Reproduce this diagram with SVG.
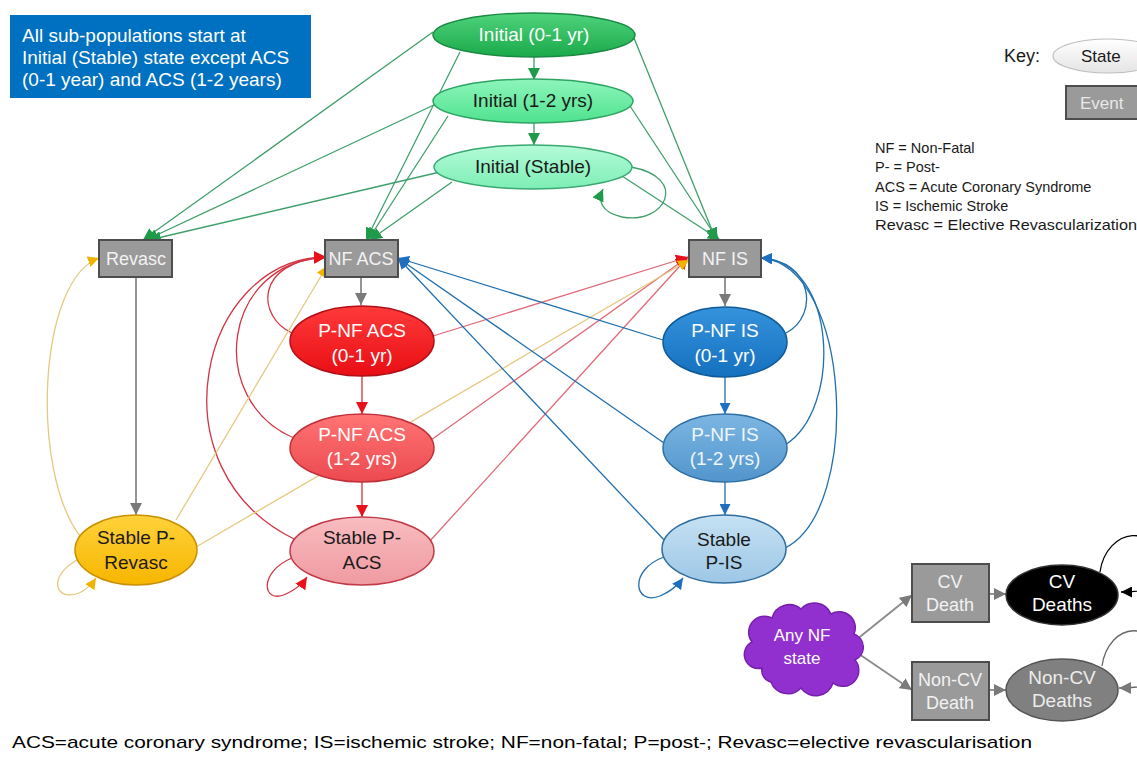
<svg xmlns="http://www.w3.org/2000/svg" width="1137" height="767" viewBox="0 0 1137 767">
<defs>
<style>
text{font-family:"Liberation Sans",Arial,sans-serif;}
.lbl{font-size:19px;text-anchor:middle;}
.w{fill:#ffffff;}
.d{fill:#1a1a1a;}
.evt{fill:#9a9a9a;stroke:#4d4d4d;stroke-width:2;}
.evtx{font-size:18px;text-anchor:middle;fill:#f2f2f2;}
.c{fill:none;stroke-width:1.3;}
.g{stroke:#3f9f6b;marker-end:url(#mg);}
.r{stroke:#d23442;marker-end:url(#mr);}
.rl{stroke:#e06a78;marker-end:url(#mr);}
.b{stroke:#1f6fae;marker-end:url(#mb);}
.y{stroke:#e6c87e;marker-end:url(#my);}
.gr{stroke:#8a8a8a;stroke-width:1.8;marker-end:url(#mgr);}
.note{font-size:14.5px;fill:#1a1a1a;}
.box{font-size:19px;fill:#ffffff;}
</style>
<marker id="mg" markerUnits="userSpaceOnUse" markerWidth="12" markerHeight="12" refX="10" refY="5" orient="auto" viewBox="0 0 10 10"><path d="M0,0 L10,5 L0,10 z" fill="#1f9a48"/></marker>
<marker id="mr" markerUnits="userSpaceOnUse" markerWidth="12" markerHeight="12" refX="10" refY="5" orient="auto" viewBox="0 0 10 10"><path d="M0,0 L10,5 L0,10 z" fill="#e8101a"/></marker>
<marker id="mb" markerUnits="userSpaceOnUse" markerWidth="11" markerHeight="11" refX="10" refY="5" orient="auto" viewBox="0 0 10 10"><path d="M0,0 L10,5 L0,10 z" fill="#1f6fc0"/></marker>
<marker id="my" markerUnits="userSpaceOnUse" markerWidth="11" markerHeight="11" refX="10" refY="5" orient="auto" viewBox="0 0 10 10"><path d="M0,0 L10,5 L0,10 z" fill="#f0b400"/></marker>
<marker id="mgr" markerUnits="userSpaceOnUse" markerWidth="12" markerHeight="12" refX="10" refY="5" orient="auto" viewBox="0 0 10 10"><path d="M0,0 L10,5 L0,10 z" fill="#7a7a7a"/></marker>
<marker id="mk" markerUnits="userSpaceOnUse" markerWidth="11" markerHeight="11" refX="10" refY="5" orient="auto" viewBox="0 0 10 10"><path d="M0,0 L10,5 L0,10 z" fill="#000"/></marker>
<linearGradient id="gIn0" x1="0" y1="0" x2="0" y2="1"><stop offset="0" stop-color="#4fd37c"/><stop offset="1" stop-color="#1aa94a"/></linearGradient>
<linearGradient id="gIn1" x1="0" y1="0" x2="0" y2="1"><stop offset="0" stop-color="#8ef5bb"/><stop offset="1" stop-color="#4fe28f"/></linearGradient>
<linearGradient id="gIn2" x1="0" y1="0" x2="0" y2="1"><stop offset="0" stop-color="#b4fbd8"/><stop offset="1" stop-color="#7deeb5"/></linearGradient>
<linearGradient id="gR0" x1="0" y1="0" x2="0" y2="1"><stop offset="0" stop-color="#ff3a3a"/><stop offset="1" stop-color="#e80e14"/></linearGradient>
<linearGradient id="gR1" x1="0" y1="0" x2="0" y2="1"><stop offset="0" stop-color="#ff7474"/><stop offset="1" stop-color="#ec4a4f"/></linearGradient>
<linearGradient id="gR2" x1="0" y1="0" x2="0" y2="1"><stop offset="0" stop-color="#f8bcc0"/><stop offset="1" stop-color="#ef9aa1"/></linearGradient>
<linearGradient id="gB0" x1="0" y1="0" x2="0" y2="1"><stop offset="0" stop-color="#3592dc"/><stop offset="1" stop-color="#1571bf"/></linearGradient>
<linearGradient id="gB1" x1="0" y1="0" x2="0" y2="1"><stop offset="0" stop-color="#7cb6e3"/><stop offset="1" stop-color="#5295cc"/></linearGradient>
<linearGradient id="gB2" x1="0" y1="0" x2="0" y2="1"><stop offset="0" stop-color="#c6e1f3"/><stop offset="1" stop-color="#9dc7e6"/></linearGradient>
<linearGradient id="gY" x1="0" y1="0" x2="0" y2="1"><stop offset="0" stop-color="#ffd23a"/><stop offset="1" stop-color="#f7b600"/></linearGradient>
<linearGradient id="gK" x1="0" y1="0" x2="0" y2="1"><stop offset="0" stop-color="#ffffff"/><stop offset="1" stop-color="#e4e4e4"/></linearGradient>
</defs>

<rect x="0" y="0" width="1137" height="767" fill="#ffffff"/>

<g id="connectors">
<!-- green -->
<path class="c g" d="M534,57 L534,80"/>
<path class="c g" d="M534,123 L534,145"/>
<path class="c g" d="M433,32 L143,240"/>
<path class="c g" d="M436,104 L146,240"/>
<path class="c g" d="M440,172 L149,240"/>
<path class="c g" d="M460,52 L366,240"/>
<path class="c g" d="M448,116 L368,240"/>
<path class="c g" d="M452,182 L370,240"/>
<path class="c g" d="M634,38 L716,240"/>
<path class="c g" d="M630,106 L718,240"/>
<path class="c g" d="M622,176 L720,240"/>
<path class="c g" d="M631,167 C690,178 665,225 622,217 C600,212 598,200 603,189"/>
<!-- grey verticals -->
<path class="c gr" d="M361,277 L361,305"/>
<path class="c gr" d="M136,277 L136,515"/>
<path class="c gr" d="M725,277 L725,306"/>
<!-- red verticals -->
<path class="c r" d="M362,375 L362,414"/>
<path class="c r" d="M362,482 L362,517"/>
<!-- red curves to NF ACS -->
<path class="c r" d="M292,333 C258,318 252,262 326,257"/>
<path class="c r" d="M294,438 C205,400 222,262 326,257"/>
<path class="c r" d="M296,540 C150,470 200,258 326,257"/>
<path class="c r" d="M292,558 C258,572 262,605 286,594 C297,589 303,583 307,577"/>
<!-- red lines to NF IS -->
<path class="c rl" d="M433,336 L688,257"/>
<path class="c rl" d="M431,440 L688,257"/>
<path class="c rl" d="M429,542 L688,257"/>
<!-- yellow -->
<path class="c y" d="M80,536 C30,470 38,280 99,258"/>
<path class="c y" d="M77,560 C48,576 54,602 79,593 C88,589 92,584 96,578"/>
<path class="c y" d="M176,520 L327,266"/>
<path class="c y" d="M196,547 L689,260"/>
<!-- blue -->
<path class="c b" d="M725,376 L725,414"/>
<path class="c b" d="M725,482 L725,515"/>
<path class="c b" d="M663,340 L398,258"/>
<path class="c b" d="M664,443 L398,258"/>
<path class="c b" d="M667,543 L398,258"/>
<path class="c b" d="M786,333 C820,315 812,260 761,258"/>
<path class="c b" d="M785,445 C842,410 838,262 761,258"/>
<path class="c b" d="M785,548 C862,510 852,265 761,258"/>
<path class="c b" d="M664,557 C628,570 634,606 660,596 C672,591 678,585 683,578"/>
<!-- deaths -->
<path class="c gr" d="M856,640 L912,595"/>
<path class="c gr" d="M856,652 L912,690"/>
<path class="c gr" d="M989,594 L1006,594"/>
<path class="c gr" d="M989,690 L1006,690"/>
<path fill="none" stroke="#000" stroke-width="1.3" marker-end="url(#mk)" d="M1100,572 C1106,528 1160,518 1160,575 C1160,588 1144,592 1121,592"/>
<path fill="none" stroke="#666" stroke-width="1.3" marker-end="url(#mgr)" d="M1102,666 C1108,622 1160,614 1160,672 C1160,684 1142,688 1119,688"/>
</g>

<g id="note">
<rect x="10" y="15" width="301" height="83" fill="#0070c0"/>
<text class="box" x="22" y="42">All sub-populations start at</text>
<text class="box" x="22" y="64">Initial (Stable) state except ACS</text>
<text class="box" x="22" y="86">(0-1 year) and ACS (1-2 years)</text>
</g>

<g id="initial-0-1">
<ellipse cx="534" cy="35" rx="101" ry="22" fill="url(#gIn0)" stroke="#1b8a44" stroke-width="1.5"/>
<text class="lbl w" x="534" y="41">Initial (0-1 yr)</text>
</g>
<g id="initial-1-2">
<ellipse cx="533" cy="101" rx="100" ry="22" fill="url(#gIn1)" stroke="#2ea463" stroke-width="1.5"/>
<text class="lbl d" x="533" y="107">Initial (1-2 yrs)</text>
</g>
<g id="initial-stable">
<ellipse cx="533" cy="167" rx="99" ry="22" fill="url(#gIn2)" stroke="#3aa870" stroke-width="1.5"/>
<text class="lbl d" x="533" y="173">Initial (Stable)</text>
</g>

<g id="revasc">
<rect class="evt" x="99" y="240" width="73" height="37"/>
<text class="evtx" x="136" y="265">Revasc</text>
</g>
<g id="nf-acs">
<rect class="evt" x="325" y="240" width="73" height="37"/>
<text class="evtx" x="361" y="265">NF ACS</text>
</g>
<g id="nf-is">
<rect class="evt" x="689" y="240" width="72" height="37"/>
<text class="evtx" x="725" y="265">NF IS</text>
</g>

<g id="pnf-acs-0-1">
<ellipse cx="362" cy="341" rx="72" ry="35" fill="url(#gR0)" stroke="#b01017" stroke-width="1.5"/>
<text class="lbl w" x="362" y="337">P-NF ACS</text>
<text class="lbl w" x="362" y="362">(0-1 yr)</text>
</g>
<g id="pnf-acs-1-2">
<ellipse cx="362" cy="448" rx="72" ry="34" fill="url(#gR1)" stroke="#c0303a" stroke-width="1.5"/>
<text class="lbl w" x="362" y="441">P-NF ACS</text>
<text class="lbl w" x="362" y="465">(1-2 yrs)</text>
</g>
<g id="stable-p-acs">
<ellipse cx="362" cy="551" rx="72" ry="34" fill="url(#gR2)" stroke="#c23a48" stroke-width="1.5"/>
<text class="lbl d" x="362" y="544">Stable P-</text>
<text class="lbl d" x="362" y="569">ACS</text>
</g>

<g id="stable-p-revasc">
<ellipse cx="136" cy="550" rx="61" ry="35" fill="url(#gY)" stroke="#c99000" stroke-width="1.5"/>
<text class="lbl d" x="136" y="544">Stable P-</text>
<text class="lbl d" x="136" y="569">Revasc</text>
</g>

<g id="pnf-is-0-1">
<ellipse cx="725" cy="342" rx="62" ry="35" fill="url(#gB0)" stroke="#0f5a98" stroke-width="1.5"/>
<text class="lbl w" x="725" y="337">P-NF IS</text>
<text class="lbl w" x="725" y="362">(0-1 yr)</text>
</g>
<g id="pnf-is-1-2">
<ellipse cx="725" cy="448" rx="62" ry="34" fill="url(#gB1)" stroke="#2e6fa5" stroke-width="1.5"/>
<text class="lbl" fill="#eef5fb" x="725" y="441">P-NF IS</text>
<text class="lbl" fill="#eef5fb" x="725" y="465">(1-2 yrs)</text>
</g>
<g id="stable-p-is">
<ellipse cx="724" cy="549" rx="62" ry="34" fill="url(#gB2)" stroke="#2f6c9e" stroke-width="1.5"/>
<text class="lbl d" x="724" y="546">Stable</text>
<text class="lbl d" x="724" y="569">P-IS</text>
</g>

<g id="key">
<text x="1004" y="62" font-size="18" fill="#1a1a1a">Key:</text>
<ellipse cx="1108" cy="56" rx="55" ry="17" fill="url(#gK)" stroke="#bdbdbd" stroke-width="1.2"/>
<text x="1081" y="62" font-size="17" fill="#1a1a1a">State</text>
<rect class="evt" x="1066" y="86" width="80" height="33"/>
<text x="1080" y="109" font-size="17" fill="#e8e8e8">Event</text>
</g>

<g id="abbrev">
<text class="note" x="875" y="153">NF = Non-Fatal</text>
<text class="note" x="875" y="172">P- = Post-</text>
<text class="note" x="875" y="192">ACS = Acute Coronary Syndrome</text>
<text class="note" x="875" y="211">IS = Ischemic Stroke</text>
<text class="note" x="875" y="230" textLength="262" lengthAdjust="spacingAndGlyphs">Revasc = Elective Revascularization</text>
</g>

<g id="any-nf-state">
<path d="M762,668 A14,14 0 0 1 752,642 A16,16 0 0 1 772,618 A18,18 0 0 1 801,609 A18,18 0 0 1 831,614 A16,16 0 0 1 854,634 A14,14 0 0 1 855,660 A16,16 0 0 1 833,683 A18,18 0 0 1 801,688 A18,18 0 0 1 771,682 A12,12 0 0 1 762,668 Z" fill="#9130cf" stroke="#7520ad" stroke-width="1.5"/>
<text x="802" y="641" font-size="17" text-anchor="middle" fill="#ffffff">Any NF</text>
<text x="802" y="664" font-size="17" text-anchor="middle" fill="#ffffff">state</text>
</g>
<g id="cv-death">
<rect class="evt" x="912" y="564" width="77" height="58"/>
<text class="evtx" x="950" y="588">CV</text>
<text class="evtx" x="950" y="611">Death</text>
</g>
<g id="non-cv-death">
<rect class="evt" x="912" y="662" width="77" height="58"/>
<text class="evtx" x="950" y="686">Non-CV</text>
<text class="evtx" x="950" y="709">Death</text>
</g>
<g id="cv-deaths">
<ellipse cx="1062" cy="595" rx="56" ry="30" fill="#000000" stroke="#333" stroke-width="1.5"/>
<text class="lbl w" x="1062" y="588">CV</text>
<text class="lbl w" x="1062" y="611">Deaths</text>
</g>
<g id="non-cv-deaths">
<ellipse cx="1062" cy="690" rx="56" ry="31" fill="#808080" stroke="#555" stroke-width="1.5"/>
<text class="lbl" fill="#ececec" x="1062" y="684">Non-CV</text>
<text class="lbl" fill="#ececec" x="1062" y="707">Deaths</text>
</g>

<text x="12" y="748" font-size="17" fill="#000" textLength="1020" lengthAdjust="spacingAndGlyphs">ACS=acute coronary syndrome; IS=ischemic stroke; NF=non-fatal; P=post-; Revasc=elective revascularisation</text>
</svg>
